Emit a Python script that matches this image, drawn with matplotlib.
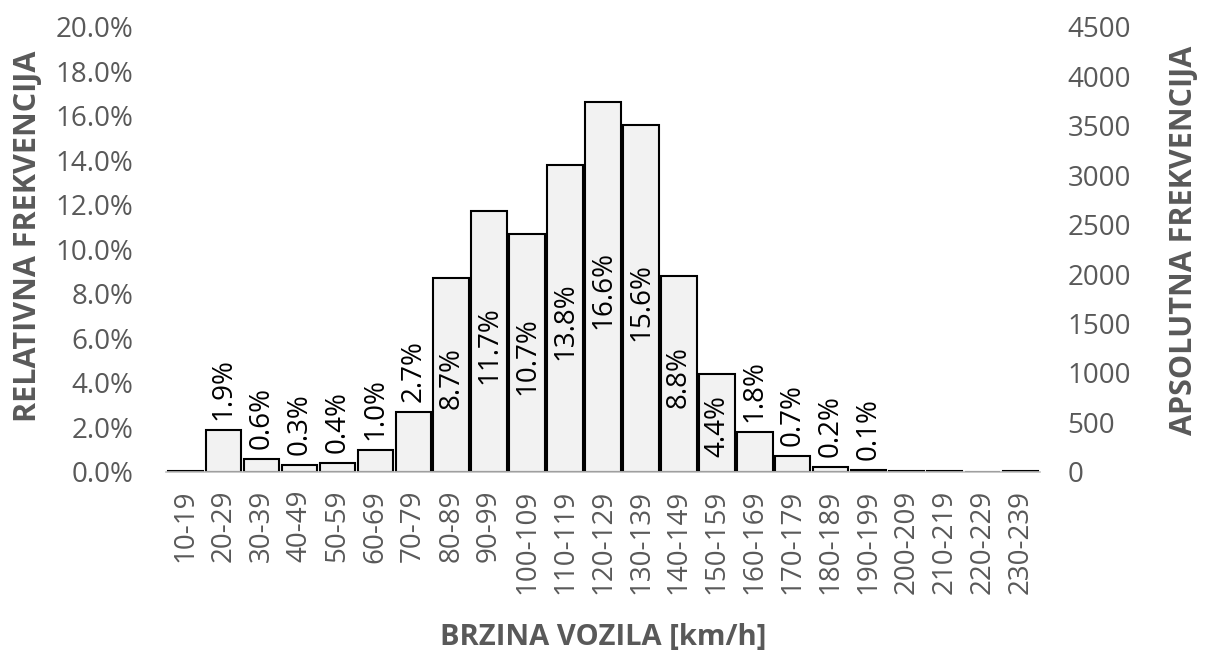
import matplotlib
matplotlib.use("Agg")
import matplotlib.pyplot as plt
import numpy as np

plt.rcParams['font.family'] = ['Open Sans', 'DejaVu Sans']

categories = ["10-19", "20-29", "30-39", "40-49", "50-59", "60-69", "70-79", "80-89",
              "90-99", "100-109", "110-119", "120-129", "130-139", "140-149", "150-159",
              "160-169", "170-179", "180-189", "190-199", "200-209", "210-219",
              "220-229", "230-239"]
rel_pct = [0.03, 1.9, 0.6, 0.3, 0.4, 1.0, 2.7, 8.7, 11.7, 10.7, 13.8, 16.6, 15.6, 8.8,
           4.4, 1.8, 0.7, 0.2, 0.1, 0.03, 0.03, 0.0, 0.03]
show_label = [False] + [True] * 18 + [False] * 4
left_ticks = np.arange(0, 20.01, 2)
right_ticks = np.arange(0, 4501, 500)

gray = "#595959"
fig = plt.figure(figsize=(12.06, 6.5), dpi=100)
ax = fig.add_axes([0.138, 0.274, 0.724, 0.685])
x = np.arange(len(categories))
ax.bar(x, rel_pct, width=0.93, color="#f2f2f2", edgecolor="black", linewidth=1.5)
ax.set_xlim(-0.5, len(categories) - 0.5)
ax.set_ylim(0, 20)
ax.set_yticks(left_ticks)
ax.set_yticklabels([f"{v:.1f}%" for v in left_ticks])
ax.set_xticks(x)
ax.set_xticklabels(categories, rotation=90)
ax.tick_params(axis='both', colors=gray, labelsize=20, length=0)
ax.tick_params(axis='x', pad=13)
ax.tick_params(axis='y', pad=24)
for s in ['top', 'right', 'left']:
    ax.spines[s].set_visible(False)
ax.spines['bottom'].set_color("#bfbfbf")
ax.spines['bottom'].set_linewidth(1.2)

for xi, v, show in zip(x, rel_pct, show_label):
    if not show:
        continue
    txt = f"{v:.1f}%"
    if v >= 4.0:
        ax.text(xi, v / 2 - 0.15, txt, rotation=90, ha='center', va='center',
                fontsize=20, color='black')
    else:
        ax.text(xi, v + 0.45, txt, rotation=90, ha='center', va='bottom',
                fontsize=20, color='black')

ax2 = ax.twinx()
ax2.set_ylim(0, 4500)
ax2.set_yticks(right_ticks)
ax2.tick_params(axis='y', colors=gray, labelsize=20, length=0, pad=20)
for s in ['top', 'right', 'left', 'bottom']:
    ax2.spines[s].set_visible(False)

ax.set_ylabel("RELATIVNA FREKVENCIJA", fontsize=22, fontweight='bold', color=gray,
              va='center')
ax.yaxis.set_label_coords(-0.158, 0.53)
ax2.set_ylabel("APSOLUTNA FREKVENCIJA", fontsize=22, fontweight='bold', color=gray,
               va='center', rotation=90)
ax2.yaxis.set_label_coords(1.165, 0.52)
ax.set_xlabel("BRZINA VOZILA [km/h]", fontsize=21, fontweight='bold', color=gray,
              va='center')
ax.xaxis.set_label_coords(0.5, -0.371)

fig.savefig("out.png", dpi=100)
